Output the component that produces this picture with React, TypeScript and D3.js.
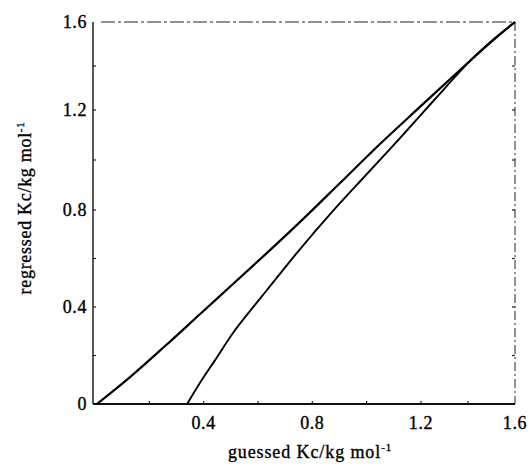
import * as d3 from 'd3';
import React from 'react';

// curve 1: nearly straight, starts close to the origin
const guessed1 = [0.007, 0.129, 0.258, 0.387, 0.508, 0.633, 0.755, 0.902, 1.049, 1.196, 1.366, 1.494, 1.6];
const regressed1 = [0, 0.111, 0.239, 0.371, 0.495, 0.623, 0.751, 0.908, 1.064, 1.214, 1.382, 1.505, 1.6];

// curve 2: starts at ~0.34 and bends up to the corner
const guessed2 = [0.339, 0.386, 0.442, 0.508, 0.571, 0.633, 0.755, 0.876, 0.994, 1.123, 1.26, 1.409, 1.515, 1.6];
const regressed2 = [0, 0.087, 0.181, 0.293, 0.384, 0.47, 0.639, 0.796, 0.936, 1.088, 1.25, 1.423, 1.527, 1.6];

const xTickValues = [0.4, 0.8, 1.2, 1.6];
const yTickValues = [0, 0.4, 0.8, 1.2, 1.6];
const minorTicks = [0.2, 0.4, 0.6, 0.8, 1.0, 1.2, 1.4];

const xTitle = 'guessed Kc/kg mol';
const yTitle = 'regressed Kc/kg mol';
const unitSup = '-1';

const W = 530;
const H = 474;
const FONT = '"Liberation Serif", "Times New Roman", serif';

export default function App() {
	// the scanned figure is slightly stretched, so the scales use a few knots
	const x = d3.scaleLinear().domain([0, 1.2, 1.6]).range([95, 421, 515]);
	const y = d3.scaleLinear().domain([0, 0.8, 1.2, 1.6]).range([404, 210, 110, 22]);

	const x0 = x(0) - 2;
	const x1 = x(1.6);
	const y0 = y(0);
	const y1 = y(1.6);

	const line = d3
		.line<[number, number]>()
		.x((d) => x(d[0]))
		.y((d) => y(d[1]))
		.curve(d3.curveCatmullRom.alpha(0.5));

	const pts1 = guessed1.map((g, i) => [g, regressed1[i]] as [number, number]);
	const pts2 = guessed2.map((g, i) => [g, regressed2[i]] as [number, number]);

	const txt = { fill: '#000', stroke: '#000', strokeWidth: 0.35 };

	return (
		<svg
			width={W}
			height={H}
			style={{ position: 'absolute', left: 0, top: 0, background: '#fff' }}
			fontFamily={FONT}
		>
			{/* frame */}
			<line x1={x0} y1={y0} x2={x0} y2={y1} stroke="#111" strokeWidth={1.4} />
			<line x1={x0} y1={y0} x2={x1} y2={y0} stroke="#111" strokeWidth={2} />
			<line x1={x0 + 8} y1={y1} x2={x1} y2={y1} stroke="#222" strokeWidth={1} strokeDasharray="14 3 3 3" />
			<line x1={x1} y1={y1} x2={x1} y2={y0} stroke="#222" strokeWidth={1} strokeDasharray="9 3 2 3" />

			{/* inward minor ticks */}
			{minorTicks.map((t) => (
				<g key={t} stroke="#222" strokeWidth={1.2}>
					<line x1={x(t)} x2={x(t)} y1={y0} y2={y0 - 3} />
					<line x1={x0} x2={x0 + 3} y1={y(t)} y2={y(t)} />
					<line x1={x1} x2={x1 - 3} y1={y(t)} y2={y(t)} />
				</g>
			))}

			{/* curves */}
			<path d={line(pts1) || ''} fill="none" stroke="#000" strokeWidth={2.2} />
			<path d={line(pts2) || ''} fill="none" stroke="#000" strokeWidth={1.9} />

			{/* y tick labels */}
			{yTickValues.map((t) => (
				<text
					key={'y' + t}
					x={x0 - 6}
					y={y(t)}
					dy="0.36em"
					textAnchor="end"
					fontSize={18}
					letterSpacing={0.6}
					{...txt}
				>
					{d3.format('~g')(t)}
				</text>
			))}

			{/* x tick labels */}
			{xTickValues.map((t) => (
				<text
					key={'x' + t}
					x={x(t)}
					y={y0 + 25}
					textAnchor="middle"
					fontSize={18}
					letterSpacing={0.6}
					{...txt}
				>
					{d3.format('.1f')(t)}
				</text>
			))}

			{/* axis titles */}
			<text x={310} y={458} textAnchor="middle" fontSize={18} letterSpacing={0.9} {...txt}>
				{xTitle}
				<tspan fontSize={11} dy={-7}>{unitSup}</tspan>
			</text>
			<text
				transform="translate(31,208) rotate(-90)"
				textAnchor="middle"
				fontSize={18}
				letterSpacing={0.7}
				{...txt}
			>
				{yTitle}
				<tspan fontSize={11} dy={-7}>{unitSup}</tspan>
			</text>
		</svg>
	);
}
